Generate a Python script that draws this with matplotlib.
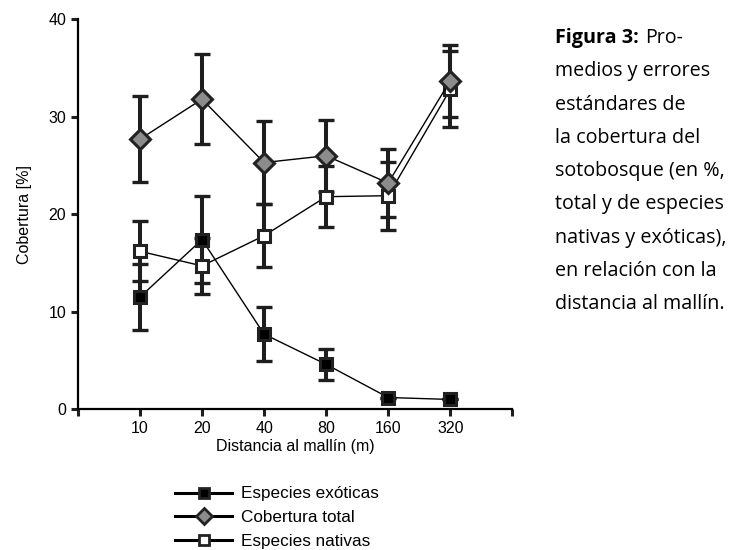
import numpy as np
import matplotlib
matplotlib.use("Agg")
import matplotlib.pyplot as plt
from matplotlib.lines import Line2D

plt.rcParams.update({"font.family": ["Liberation Sans", "DejaVu Sans"], "font.size": 11.5})

dist = ["10", "20", "40", "80", "160", "320"]
exo = [11.5, 17.4, 7.7, 4.6, 1.2, 1.0]
exo_err = [3.4, 4.5, 2.8, 1.6, 0.0, 0.0]
total = [27.7, 31.8, 25.3, 26.0, 23.2, 33.7]
total_err = [4.4, 4.6, 4.3, 3.7, 3.5, 3.7]
nat = [16.2, 14.7, 17.8, 21.8, 21.9, 32.8]
nat_err = [3.1, 2.9, 3.2, 3.1, 3.5, 3.9]

caption = ["medios y errores", "estándares de", "la cobertura del",
           "sotobosque (en %,", "total y de especies", "nativas y exóticas),",
           "en relación con la", "distancia al mallín."]

fig = plt.figure(figsize=(7.35, 5.5), dpi=100)
ax = fig.add_axes([0.106, 0.256, 0.591, 0.709])
x = np.arange(1, len(dist) + 1)
EC = "#1e1e1e"

series = [
    (nat, nat_err, "s", "white", "Especies nativas"),
    (total, total_err, "D", "#8c8c8c", "Cobertura total"),
    (exo, exo_err, "s", "black", "Especies exóticas"),
]
leg_handles = {}
for vals, err, mk, fc, lab in series:
    ax.errorbar(x, vals, yerr=err, fmt="none", ecolor=EC, elinewidth=2.9,
                capsize=5.8, capthick=2.4, zorder=2)
    ms = 9 if mk == "s" else 10
    ax.plot(x, vals, color="black", lw=1.0, marker=mk, ms=ms,
            mfc=fc, mec="#222222", mew=2.2, zorder=3)
    leg_handles[lab] = Line2D([], [], color="black", lw=2.2, marker=mk,
                              ms=7.5 if mk == "s" else 8, mfc=fc,
                              mec="#222222", mew=2.0)

ax.set_xlim(0, 7)
ax.set_ylim(0, 40)
ax.set_xticks([0] + list(x) + [7])
ax.set_xticklabels([""] + dist + [""])
ax.set_yticks([0, 10, 20, 30, 40])
for s in ["top", "right"]:
    ax.spines[s].set_visible(False)
for s in ["left", "bottom"]:
    ax.spines[s].set_linewidth(1.6)
ax.tick_params(axis="both", direction="out", length=5, width=2.2, color="#1e1e1e")
ax.set_xlabel("Distancia al mallín (m)", labelpad=2)
ax.set_ylabel("Cobertura [%]", labelpad=12)

order = ["Especies exóticas", "Cobertura total", "Especies nativas"]
fig.legend([leg_handles[k] for k in order], order, loc="upper left",
           bbox_to_anchor=(0.227, 0.131), frameon=False, fontsize=12.3,
           handlelength=3.3, labelspacing=0.52, borderpad=0, handletextpad=0.55)

cap_font = ["Open Sans", "DejaVu Sans"]
x0 = 555 / 735
fs = 14.2
fig.text(x0, 1 - 38 / 550, "Figura 3:", fontsize=fs, fontweight="bold",
         family=cap_font, va="center", ha="left")
fig.text(645 / 735, 1 - 38 / 550, "Pro-", fontsize=fs, family=cap_font,
         va="center", ha="left")
for i, line in enumerate(caption):
    fig.text(x0, 1 - (38 + (i + 1) * 33.3) / 550, line, fontsize=fs,
             family=cap_font, va="center", ha="left")

fig.savefig("out.png", dpi=100)
